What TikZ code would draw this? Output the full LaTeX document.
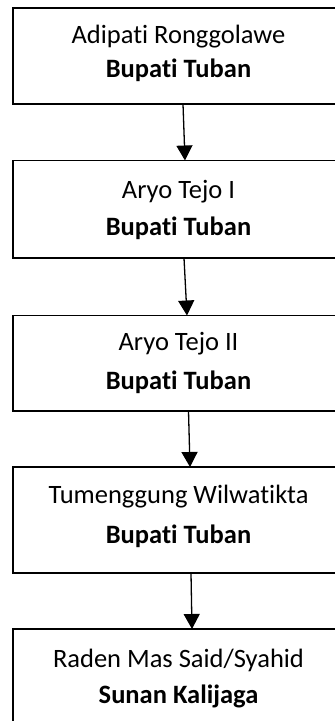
\documentclass[tikz,border=0pt]{standalone}
\usepackage{fontspec}
\setmainfont{Carlito}[RawFeature={-liga}]
\usetikzlibrary{arrows.meta,calc}
\begin{document}
\begin{tikzpicture}[x=1pt,y=1pt,
  box/.style={draw=black, line width=1.8pt, rectangle, inner sep=0pt, outer sep=0pt, anchor=north west, fill=none},
  txt/.style={anchor=base, inner sep=0pt, font=\fontsize{26.5}{30}\selectfont},
  btxt/.style={txt, font=\fontsize{26.5}{30}\selectfont\bfseries},
  arr/.style={draw=black, line width=1.3pt, -{Triangle[width=16pt,length=15pt]}}]
\useasboundingbox (0,0) rectangle (335,-721);
\clip (0,0) rectangle (335,-721);
\fill[white] (0,0) rectangle (335,-721);
% boxes
\node[box, minimum width=331pt, minimum height=96pt] (b1) at (13,-8) {};
\node[box, minimum width=331pt, minimum height=97.5pt] (b2) at (13,-160.5) {};
\node[box, minimum width=331pt, minimum height=95.5pt] (b3) at (13,-315.5) {};
\node[box, minimum width=331pt, minimum height=106pt] (b4) at (13,-467) {};
\node[box, minimum width=331pt, minimum height=120pt] (b5) at (13,-629) {};
% texts
\node[txt] (t1a) at (178.5,-43) {Adipati Ronggolawe};
\node[btxt] (t1b) at (178.5,-77) {Bupati Tuban};
\node[txt] (t2a) at (178.5,-198) {Aryo Tejo I};
\node[btxt] (t2b) at (178.5,-235) {Bupati Tuban};
\node[txt] (t3a) at (178.5,-350) {Aryo Tejo II};
\node[btxt] (t3b) at (178.5,-389) {Bupati Tuban};
\node[txt] (t4a) at (178.5,-503) {Tumenggung Wilwatikta};
\node[btxt] (t4b) at (178.5,-543) {Bupati Tuban};
\node[txt] (t5a) at (178.5,-667) {Raden Mas Said/Syahid};
\node[btxt] (t5b) at (178.5,-703) {Sunan Kalijaga};
% arrows
\draw[arr] ($(b1.south west)+(170,0)$) -- ($(b2.north west)+(172,0)$);
\draw[arr] ($(b2.south west)+(171,0)$) -- ($(b3.north west)+(174,0)$);
\draw[arr] ($(b3.south west)+(175.5,0)$) -- ($(b4.north west)+(177,0)$);
\draw[arr] ($(b4.south west)+(178,0)$) -- ($(b5.north west)+(179,0)$);
\end{tikzpicture}
\end{document}
